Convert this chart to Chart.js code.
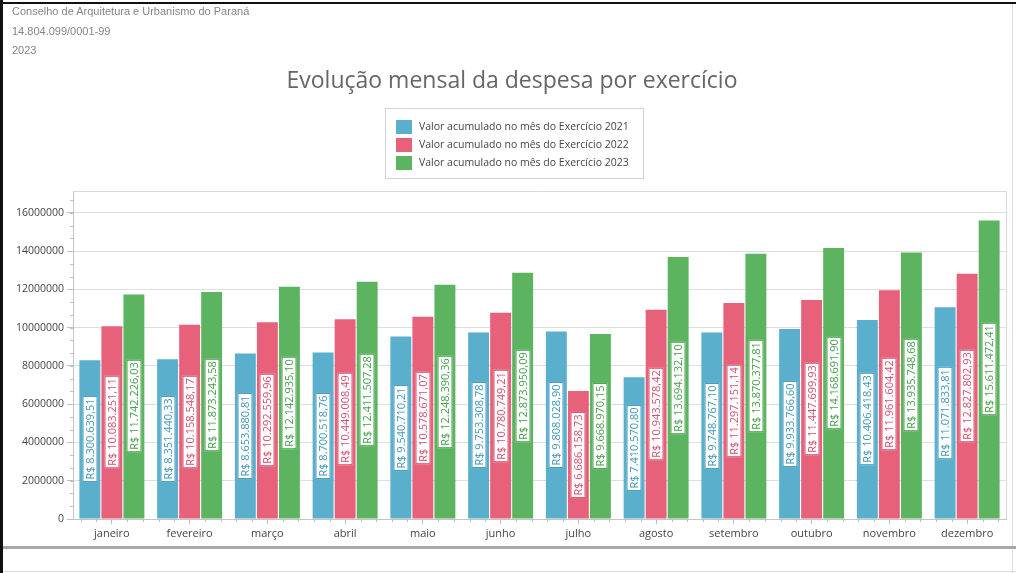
<!DOCTYPE html>
<html>
<head>
<meta charset="utf-8">
<script src="https://cdn.jsdelivr.net/npm/chart.js@4.4.1/dist/chart.umd.min.js"></script>
<style>
  html, body { margin: 0; padding: 0; background: #fff; }
  #page { position: relative; width: 1016px; height: 573px; overflow: hidden; background: #fff; }
  #page canvas { position: absolute; left: 0; top: 0; }
  .frame-top { position: absolute; left: 0; top: 2px; width: 1016px; height: 2px; background: #111; }
  .frame-left { position: absolute; left: 0; top: 0; width: 3px; height: 573px; background: #111; }
  .frame-right { position: absolute; left: 1012px; top: 4px; width: 1px; height: 569px; background: #ddd; }
  .frame-bottom { position: absolute; left: 3px; top: 546px; width: 1013px; height: 3px; background: #a9a9a9; }
  .frame-bottom2 { position: absolute; left: 3px; top: 571px; width: 1013px; height: 1px; background: #ddd; }
  .hdr { position: absolute; left: 12px; font: 11px "Liberation Sans", Arial, sans-serif; color: #858585; white-space: nowrap; }
  #title { position: absolute; left: 0; width: 1024px; top: 63px; text-align: center;
           font: 23px "Open Sans", sans-serif; color: #666; white-space: nowrap; }
  #legend { position: absolute; left: 385px; top: 108px; width: 259px; height: 71px;
            border: 1px solid #d4d4d4; box-sizing: border-box; }
  .lg-item { position: absolute; left: 10px; height: 15px; font: 10.5px "Open Sans", sans-serif; color: #444; white-space: nowrap; }
  .lg-item span.sw { position: absolute; left: 0; top: 0; width: 16px; height: 14px; }
  .lg-item span.tx { position: absolute; left: 23px; top: -1px; }
</style>
</head>
<body>
<div id="page">
  <canvas id="despesaChart" width="1016" height="573"></canvas>
  <div class="frame-top"></div>
  <div class="frame-left"></div>
  <div class="frame-right"></div>
  <div class="frame-bottom"></div>
  <div class="frame-bottom2"></div>
  <div class="hdr" style="top:5px">Conselho de Arquitetura e Urbanismo do Paraná</div>
  <div class="hdr" style="top:25px">14.804.099/0001-99</div>
  <div class="hdr" style="top:44px">2023</div>
  <div id="title">Evolução mensal da despesa por exercício</div>
  <div id="legend"></div>
</div>
<script>
// Dados
const months = ['janeiro', 'fevereiro', 'março', 'abril', 'maio', 'junho',
  'julho', 'agosto', 'setembro', 'outubro', 'novembro', 'dezembro'];
const seriesLabels = [
  'Valor acumulado no mês do Exercício 2021',
  'Valor acumulado no mês do Exercício 2022',
  'Valor acumulado no mês do Exercício 2023'
];
const values2021 = [8300639.51, 8351440.33, 8653880.81, 8700518.76, 9540710.21, 9753308.78,
  9808028.90, 7410570.80, 9748767.10, 9933766.60, 10406418.43, 11071833.81];
const values2022 = [10083251.11, 10158548.17, 10292559.96, 10449008.49, 10578671.07, 10780749.21,
  6686158.73, 10943578.42, 11297151.14, 11447699.93, 11961604.42, 12827802.93];
const values2023 = [11742226.03, 11873243.58, 12142935.10, 12411507.28, 12248390.36, 12873950.09,
  9668970.15, 13694132.10, 13870377.81, 14168691.90, 13935748.68, 15611472.41];
const yTicks = [0, 2000000, 4000000, 6000000, 8000000, 10000000, 12000000, 14000000, 16000000];
const yStep = 2000000;

const barColors = ['#59afcc', '#e8617b', '#5db460'];
const textColors = ['#3f97b8', '#d44f6b', '#46a04a'];

function brl(v) {
  const parts = v.toFixed(2).split('.');
  return 'R$ ' + parts[0].replace(/\B(?=(\d{3})+(?!\d))/g, '.') + ',' + parts[1];
}

// Legenda em HTML
const legendEl = document.getElementById('legend');
seriesLabels.forEach((lbl, i) => {
  const item = document.createElement('div');
  item.className = 'lg-item';
  item.style.top = (11 + i * 18) + 'px';
  item.innerHTML = '<span class="sw" style="background:' + barColors[i] + '"></span><span class="tx"></span>';
  item.querySelector('.tx').textContent = lbl;
  legendEl.appendChild(item);
});

// Rótulos verticais dentro das barras
const valueLabels = {
  id: 'valueLabels',
  afterDatasetsDraw(chart) {
    const ctx = chart.ctx;
    ctx.save();
    ctx.font = '11px "Open Sans", sans-serif';
    ctx.textAlign = 'center';
    ctx.textBaseline = 'middle';
    chart.data.datasets.forEach((ds, di) => {
      const meta = chart.getDatasetMeta(di);
      meta.data.forEach((bar, i) => {
        const txt = brl(ds.data[i]);
        const w = ctx.measureText(txt).width + 5;
        const h = 15;
        const cy = (bar.y + bar.base) / 2;
        ctx.save();
        ctx.translate(Math.round(bar.x), Math.round(cy));
        ctx.rotate(-Math.PI / 2);
        ctx.fillStyle = '#fff';
        ctx.fillRect(-w / 2, -h / 2, w, h);
        ctx.strokeStyle = textColors[di];
        ctx.lineWidth = 1;
        ctx.strokeRect(-w / 2 + 0.5, -h / 2 + 0.5, w - 1, h - 1);
        ctx.fillStyle = textColors[di];
        ctx.fillText(txt, 0, 1);
        ctx.restore();
      });
    });
    ctx.restore();
  }
};

// Borda da área do gráfico e marcas menores
const areaFrame = {
  id: 'areaFrame',
  afterDraw(chart) {
    const { ctx, chartArea: a, scales } = chart;
    ctx.save();
    ctx.strokeStyle = '#d9d9d9';
    ctx.lineWidth = 1;
    ctx.beginPath();
    ctx.moveTo(a.left, a.top + 0.5);
    ctx.lineTo(a.right + 0.5, a.top + 0.5);
    ctx.lineTo(a.right + 0.5, a.bottom);
    ctx.stroke();
    // marcas menores do eixo y
    ctx.strokeStyle = '#bdbdbd';
    ctx.beginPath();
    for (let v = 0; v <= scales.y.max; v += yStep / 3) {
      const py = Math.round(scales.y.getPixelForValue(v)) + 0.5;
      ctx.moveTo(a.left - 3, py);
      ctx.lineTo(a.left, py);
    }
    // marcas menores do eixo x
    const catW = (a.right - a.left) / months.length;
    months.forEach((m, i) => {
      const cx = scales.x.getPixelForValue(i);
      [-2, -1, 1, 2].forEach(k => {
        const px = Math.round(cx + k * catW / 5) + 0.5;
        ctx.moveTo(px, a.bottom);
        ctx.lineTo(px, a.bottom + 3);
      });
    });
    ctx.stroke();
    ctx.restore();
  }
};

const allValues = [values2021, values2022, values2023];
const ctx = document.getElementById('despesaChart').getContext('2d');
new Chart(ctx, {
  type: 'bar',
  data: {
    labels: months,
    datasets: seriesLabels.map((lbl, i) => ({
      label: lbl,
      data: allValues[i],
      backgroundColor: barColors[i],
      borderWidth: 0,
      barPercentage: 0.95,
      categoryPercentage: 0.85
    }))
  },
  options: {
    responsive: false,
    animation: false,
    layout: { padding: { top: 191, right: 10, bottom: 28, left: 0 } },
    plugins: {
      legend: { display: false },
      title: { display: false },
      tooltip: { enabled: false }
    },
    scales: {
      x: {
        afterFit: s => { s.height = 26; },
        grid: { display: true, drawOnChartArea: false, offset: false, tickLength: 5, tickColor: '#bdbdbd' },
        border: { color: '#c4c4c4' },
        ticks: { color: '#444', font: { family: 'Open Sans', size: 11 }, padding: 3, maxRotation: 0 }
      },
      y: {
        min: 0,
        max: 17150000,
        afterFit: s => { s.width = 73; },
        afterBuildTicks: s => { s.ticks = yTicks.map(v => ({ value: v })); },
        grid: { color: '#dedede', tickLength: 6, tickColor: '#bdbdbd' },
        border: { color: '#c4c4c4' },
        ticks: {
          color: '#444',
          font: { family: 'Open Sans', size: 10.5 },
          padding: 3,
          callback: v => String(v)
        }
      }
    }
  },
  plugins: [valueLabels, areaFrame]
});
</script>
</body>
</html>
